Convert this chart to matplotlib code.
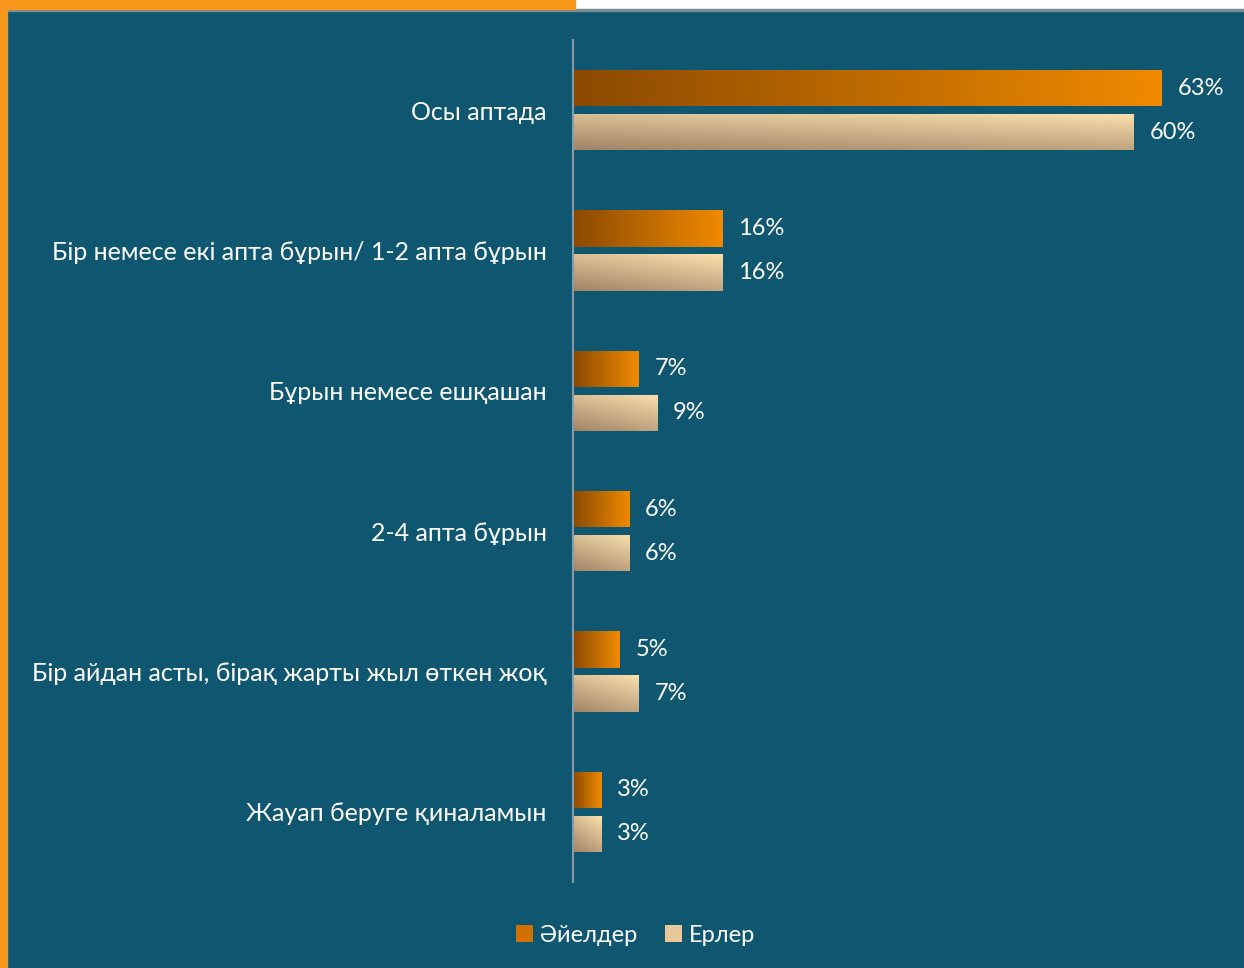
import numpy as np
import matplotlib.pyplot as plt
from matplotlib.patches import Rectangle, Patch

categories = [
    'Осы аптада',
    'Бір немесе екі апта бұрын/ 1-2 апта бұрын',
    'Бұрын немесе ешқашан',
    '2-4 апта бұрын',
    'Бір айдан асты, бірақ жарты жыл өткен жоқ',
    'Жауап беруге қиналамын',
]
women = [63, 16, 7, 6, 5, 3]
men = [60, 16, 9, 6, 7, 3]
series_names = ['Әйелдер', 'Ерлер']

bg = '#0f5670'
plt.rcParams['font.family'] = ['Lato', 'Open Sans', 'DejaVu Sans']

fig = plt.figure(figsize=(12.44, 9.68), dpi=100, facecolor=bg)

# decorative frame: orange strip top-left, white top-right, orange left edge
fig.patches.append(Rectangle((575/1244, 1 - 9/968), 1, 9/968, transform=fig.transFigure, color='white', zorder=0))
fig.patches.append(Rectangle((0, 1 - 11/968), 1, 2/968, transform=fig.transFigure, color='#7d8a92', zorder=0))
fig.patches.append(Rectangle((0, 0), 7/1244, 1, transform=fig.transFigure, color='#f7981d', zorder=0))
fig.patches.append(Rectangle((0, 1 - 9/968), 575/1244, 9/968, transform=fig.transFigure, color='#f7981d', zorder=0))

ax = fig.add_axes([573/1244, 86/968, 1 - 573/1244, 842/968])
ax.set_facecolor(bg)

y = np.arange(len(categories))
off = 0.157
h = 0.257

bars_w = ax.barh(y - off, women, height=h, color='none')
bars_m = ax.barh(y + off, men, height=h, color='none')

# gradients (per bar)
n = 64
t = np.linspace(0, 1, n)
c0 = np.array([0x8b, 0x4a, 0x00]) / 255
c1 = np.array([0xf0, 0x8a, 0x00]) / 255
orange_grad = c0[None, None, :] * (1 - t)[None, :, None] + c1[None, None, :] * t[None, :, None]
orange_grad = np.repeat(orange_grad, 4, axis=0)

xx, yy = np.meshgrid(t, t)
# y axis is inverted, so row 0 is drawn at the top of the bar
d = np.clip(0.35 * xx + 0.65 * (1 - yy), 0, 1)
b0 = np.array([0xa0, 0x84, 0x66]) / 255
b1 = np.array([0xfb, 0xe0, 0xae]) / 255
beige_grad = b0[None, None, :] * (1 - d)[..., None] + b1[None, None, :] * d[..., None]

for bars, grad in ((bars_w, orange_grad), (bars_m, beige_grad)):
    for b in bars:
        x0, y0 = b.get_x(), b.get_y()
        w, hh = b.get_width(), b.get_height()
        im = ax.imshow(grad, extent=[x0, x0 + w, y0, y0 + hh], origin='lower',
                       aspect='auto', interpolation='bilinear', zorder=2)
        im.set_clip_path(b)

for bars, vals in ((bars_w, women), (bars_m, men)):
    for b, v in zip(bars, vals):
        ax.text(b.get_width() + 1.7, b.get_y() + b.get_height() / 2, f'{v}%',
                va='center', ha='left', color='white', fontsize=17)

ax.set_xlim(0, 71.8)
ax.set_ylim(len(categories) - 0.5, -0.5)
ax.set_yticks(y)
ax.set_yticklabels(categories, color='white', fontsize=18)
ax.tick_params(axis='y', length=0, pad=19)
ax.set_xticks([])
for s in ['top', 'right', 'bottom']:
    ax.spines[s].set_visible(False)
ax.spines['left'].set_color('#8a9aa4')
ax.spines['left'].set_linewidth(1.5)

handles = [Patch(facecolor='#d07000', edgecolor='none'), Patch(facecolor='#e8c898', edgecolor='none')]
fig.legend(handles, series_names, loc='center', bbox_to_anchor=(0.511, 0.034), ncol=2,
           frameon=False, fontsize=17, labelcolor='white', handlelength=0.7, handleheight=0.7,
           handletextpad=0.3, columnspacing=1.2)

fig.savefig('out.png', dpi=100, facecolor=bg)
